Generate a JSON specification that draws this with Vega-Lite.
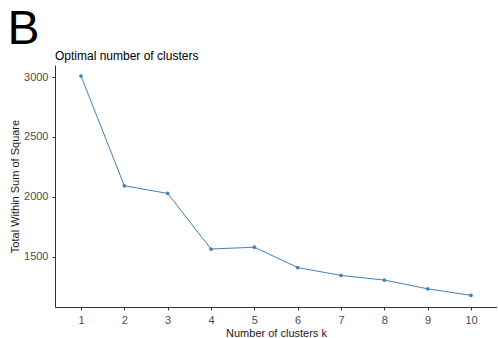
{
  "$schema": "https://vega.github.io/schema/vega-lite/v6.json",
  "background": "white",
  "padding": {"left": 7, "top": 6, "right": 0, "bottom": 0},
  "config": {
    "font": "Liberation Sans",
    "view": {"stroke": null},
    "concat": {"spacing": 0}
  },
  "title": {"text": "B", "anchor": "start", "frame": "bounds", "fontSize": 48, "fontWeight": "normal", "color": "#000000", "offset": -4, "dx": -2},
  "vconcat": [
    {
      "width": 442,
      "height": 242,
      "title": {"text": "Optimal number of clusters", "anchor": "start", "frame": "group", "fontSize": 12, "fontWeight": "normal", "color": "#000000", "offset": 2},
      "data": {"values": [
        {"k": 1, "wss": 3010},
        {"k": 2, "wss": 2092},
        {"k": 3, "wss": 2028},
        {"k": 4, "wss": 1563},
        {"k": 5, "wss": 1578},
        {"k": 6, "wss": 1408},
        {"k": 7, "wss": 1342},
        {"k": 8, "wss": 1303},
        {"k": 9, "wss": 1230},
        {"k": 10, "wss": 1175}
      ]},
      "encoding": {
        "x": {"field": "k", "type": "quantitative",
          "scale": {"domain": [0.4, 10.6], "nice": false, "zero": false},
          "axis": {"values": [1,2,3,4,5,6,7,8,9,10], "format": "d", "title": "Number of clusters k", "grid": false,
            "domainColor": "#333333", "tickColor": "#333333", "tickSize": 3, "labelPadding": 4,
            "labelFontSize": 11, "labelColor": "#4d4d4d", "titleFontSize": 11, "titleFontWeight": "normal", "titleColor": "#1a1a1a", "titlePadding": 2}},
        "y": {"field": "wss", "type": "quantitative",
          "scale": {"domain": [1078, 3102], "nice": false, "zero": false},
          "axis": {"values": [1500, 2000, 2500, 3000], "format": "d", "title": "Total Within Sum of Square", "grid": false,
            "domainColor": "#333333", "tickColor": "#333333", "tickSize": 3, "labelPadding": 4,
            "labelFontSize": 11, "labelColor": "#4d4d4d", "titleFontSize": 11, "titleFontWeight": "normal", "titleColor": "#1a1a1a", "titlePadding": 3}}
      },
      "layer": [
        {"mark": {"type": "line", "color": "#4682B4", "strokeWidth": 1}},
        {"mark": {"type": "point", "filled": true, "color": "#4682B4", "size": 14, "opacity": 1}}
      ]
    }
  ]
}
